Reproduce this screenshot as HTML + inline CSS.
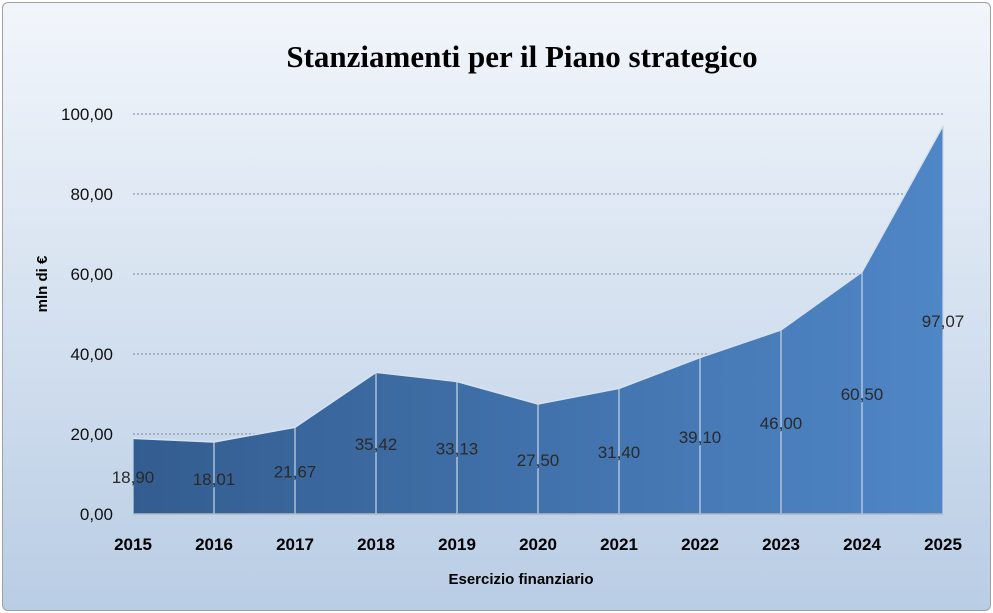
<!DOCTYPE html>
<html><head><meta charset="utf-8"><style>
body{margin:0;width:993px;height:613px;overflow:hidden;background:#fff;font-family:"Liberation Sans",sans-serif}
#wrap{position:absolute;left:2px;top:2px;width:987px;height:607px;border:1px solid #a0a0a0;border-radius:6px;background:linear-gradient(#f2f6fb,#b9cde5);overflow:hidden}
</style></head><body>
<div id="wrap">
<svg id="chart" width="987" height="607">
<defs><linearGradient id="g" x1="0" x2="1" y1="0" y2="0"><stop offset="0" stop-color="#335d90"/><stop offset="1" stop-color="#4f86c6"/></linearGradient></defs>
</svg></div>
<script>
const categories=["2015","2016","2017","2018","2019","2020","2021","2022","2023","2024","2025"];
const values=[18.90,18.01,21.67,35.42,33.13,27.50,31.40,39.10,46.00,60.50,97.07];
const valueLabels=["18,90","18,01","21,67","35,42","33,13","27,50","31,40","39,10","46,00","60,50","97,07"];
const yTicks=[0,20,40,60,80,100];
const yTickLabels=["0,00","20,00","40,00","60,00","80,00","100,00"];
const NS="http://www.w3.org/2000/svg",svg=document.getElementById('chart');
const ox=-2,oy=-2;
const x=i=>132+i*(942-132)/(categories.length-1)+ox;
const y=v=>513-v*4.0+oy;
function mk(t,a,txt){const e=document.createElementNS(NS,t);for(const k in a)e.setAttribute(k,a[k]);if(txt!==undefined)e.textContent=txt;svg.appendChild(e);return e;}
let e=mk('text',{x:519,y:64,'text-anchor':'middle','font-family':'Liberation Serif,serif','font-weight':'bold','font-size':31,fill:'#000'},'Stanziamenti per il Piano strategico');

yTicks.forEach((t,i)=>{
 if(t>0){const g=mk('line',{x1:x(0),x2:x(categories.length-1),y1:y(t),y2:y(t),stroke:'#8a9bb0','stroke-width':1.3,'stroke-dasharray':'2,2'});
 }
 const l=mk('text',{x:110,y:y(t)+6,'text-anchor':'end','font-size':17,fill:'#111'},yTickLabels[i]);
 
});
let d='M'+x(0)+','+y(0);values.forEach((v,i)=>d+=' L'+x(i)+','+y(v));d+=' L'+x(values.length-1)+','+y(0)+' Z';
e=mk('path',{d:d,fill:'url(#g)'});
let pl='';values.forEach((v,i)=>pl+=(i?' L':'M')+x(i)+','+y(v));
e=mk('path',{d:pl,fill:'none',stroke:'#d8e2ef','stroke-width':1.5});
values.forEach((v,i)=>{
 const l=mk('line',{x1:x(i),x2:x(i),y1:y(v),y2:y(0),stroke:'#c9d6e8','stroke-width':1.2});
 
});
e=mk('line',{x1:x(0),x2:x(categories.length-1),y1:y(0),y2:y(0),stroke:'#b0b8c4','stroke-width':1.5});
values.forEach((v,i)=>{
 const t=mk('text',{x:x(i),y:y(v/2)+7,'text-anchor':'middle','font-size':17,fill:'#2a2a2a'},valueLabels[i]);
 
});
categories.forEach((c,i)=>{
 const t=mk('text',{x:x(i),y:549+oy,'text-anchor':'middle','font-size':17,'font-weight':'bold',fill:'#000'},c);
 
});
e=mk('text',{x:518,y:581,'text-anchor':'middle','font-size':15,'font-weight':'bold',fill:'#000'},'Esercizio finanziario');

e=mk('text',{x:0,y:0,'text-anchor':'middle','font-size':15,'font-weight':'bold',fill:'#000',transform:'translate(44,281) rotate(-90)'},'mln di €');

</script>
</body></html>
